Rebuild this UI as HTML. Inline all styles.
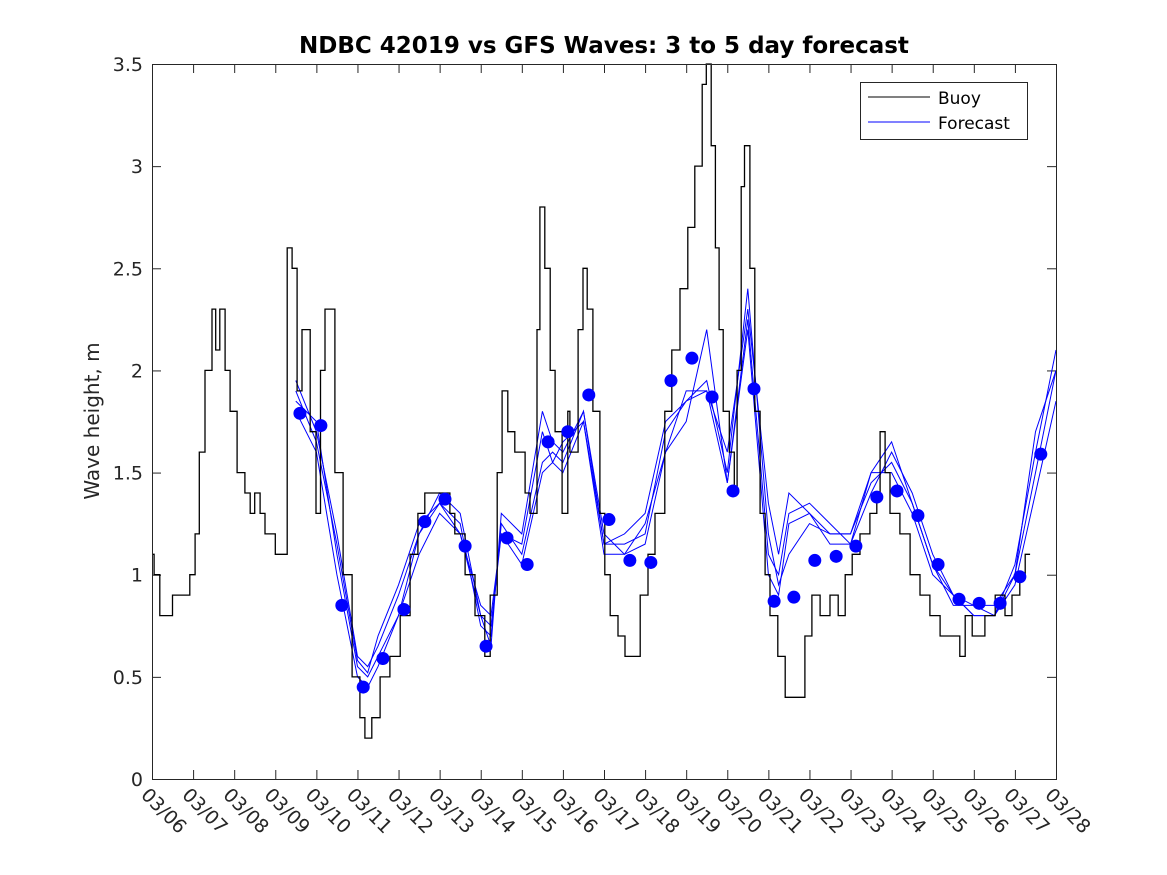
<!DOCTYPE html>
<html><head><meta charset="utf-8"><style>
html,body{margin:0;padding:0;background:#fff;}
svg{display:block;font-family:"DejaVu Sans","Liberation Sans",sans-serif;}
</style></head><body>
<svg id="chart" width="1167" height="875" viewBox="0 0 1167 875">
<rect x="0" y="0" width="1167" height="875" fill="#fff"/>
<text x="604" y="53" text-anchor="middle" font-size="23" font-weight="bold" fill="#000">NDBC 42019 vs GFS Waves: 3 to 5 day forecast</text>
<text transform="translate(99,421) rotate(-90)" text-anchor="middle" font-size="20" fill="#262626">Wave height, m</text>
<g id="grid"></g>
<g id="series"></g>
<rect x="152.5" y="64.5" width="904" height="715" fill="none" stroke="#262626" stroke-width="1"/>
<g>
<rect x="860.5" y="82.5" width="167" height="57" fill="#fff" stroke="#262626"/>
<line x1="868" y1="97" x2="930" y2="97" stroke="#000"/>
<text x="938" y="104" font-size="17" fill="#000">Buoy</text>
<line x1="868" y1="122" x2="930" y2="122" stroke="#00f"/>
<text x="938" y="129" font-size="17" fill="#000">Forecast</text>
</g>
</svg>
<script>
const xTickLabels=["03/06","03/07","03/08","03/09","03/10","03/11","03/12","03/13","03/14","03/15","03/16","03/17","03/18","03/19","03/20","03/21","03/22","03/23","03/24","03/25","03/26","03/27","03/28"];
const yTicks=[0,0.5,1,1.5,2,2.5,3,3.5];
const yTickLabels=["0","0.5","1","1.5","2","2.5","3","3.5"];
const buoyDay=[0,0.05,0.19,0.5,0.8,0.92,1.05,1.15,1.29,1.46,1.55,1.65,1.78,1.9,2.07,2.26,2.39,2.5,2.63,2.75,3.0,3.12,3.29,3.41,3.53,3.65,3.85,3.99,4.1,4.21,4.45,4.65,4.87,5.06,5.18,5.35,5.55,5.79,6.04,6.28,6.47,6.64,7.01,7.25,7.37,7.62,7.86,8.1,8.23,8.4,8.52,8.66,8.83,9.08,9.2,9.37,9.44,9.56,9.69,9.81,9.98,10.12,10.17,10.37,10.49,10.59,10.73,10.9,11.02,11.15,11.34,11.51,11.75,11.88,12.07,12.24,12.48,12.65,12.85,13.04,13.21,13.39,13.49,13.61,13.71,13.8,13.9,14.05,14.17,14.24,14.34,14.42,14.55,14.67,14.8,14.92,15.04,15.23,15.41,15.7,15.89,16.06,16.26,16.5,16.7,16.87,17.04,17.23,17.47,17.64,17.72,17.84,17.96,18.2,18.45,18.69,18.93,19.18,19.62,19.66,19.79,19.96,20.27,20.52,20.76,20.93,21.12,21.25,21.37];
const buoyHeight=[1.1,1.0,0.8,0.9,0.9,1.0,1.2,1.6,2.0,2.3,2.1,2.3,2.0,1.8,1.5,1.4,1.3,1.4,1.3,1.2,1.1,1.1,2.6,2.5,1.9,2.2,1.7,1.3,2.0,2.3,1.5,1.0,0.5,0.3,0.2,0.3,0.5,0.6,0.8,1.1,1.3,1.4,1.4,1.3,1.2,1.0,0.8,0.6,0.9,1.5,1.9,1.7,1.6,1.4,1.3,2.2,2.8,2.5,2.0,1.7,1.3,1.8,1.6,2.2,2.5,2.3,1.8,1.3,1.0,0.8,0.7,0.6,0.6,0.9,1.1,1.3,1.8,2.1,2.4,2.7,3.0,3.4,3.5,3.1,2.6,2.2,1.8,1.6,1.4,2.0,2.9,3.1,2.5,1.8,1.3,1.0,0.8,0.6,0.4,0.4,0.7,0.9,0.8,0.9,0.8,1.0,1.1,1.2,1.3,1.4,1.7,1.5,1.3,1.2,1.0,0.9,0.8,0.7,0.7,0.6,0.8,0.7,0.8,0.9,0.8,0.9,1.0,1.1,1.1];
const dotDay=[3.6,4.11,4.62,5.14,5.62,6.13,6.64,7.13,7.62,8.13,8.64,9.13,9.64,10.12,10.63,11.12,11.63,12.14,12.63,13.14,13.63,14.14,14.65,15.14,15.62,16.13,16.65,17.13,17.64,18.13,18.64,19.13,19.64,20.13,20.64,21.12,21.63];
const dotHeight=[1.79,1.73,0.85,0.45,0.59,0.83,1.26,1.37,1.14,0.65,1.18,1.05,1.65,1.70,1.88,1.27,1.07,1.06,1.95,2.06,1.87,1.41,1.91,0.87,0.89,1.07,1.09,1.14,1.38,1.41,1.29,1.05,0.88,0.86,0.86,0.99,1.59];
const fcDay=[3.5,4.0,4.5,5.0,5.25,5.5,6.0,6.5,7.0,7.5,8.0,8.25,8.5,9.0,9.5,9.75,10.0,10.5,11.0,11.5,12.0,12.5,13.0,13.5,14.0,14.5,15.0,15.25,15.5,16.0,16.5,17.0,17.5,18.0,18.5,19.0,19.5,20.0,20.5,21.0,21.5,22.0];
const fcRunA=[1.95,1.7,1.2,0.6,0.55,0.65,0.9,1.2,1.35,1.25,0.75,0.7,1.25,1.1,1.55,1.6,1.55,1.8,1.15,1.15,1.2,1.7,1.85,1.95,1.5,2.4,1.2,0.95,1.1,1.25,1.2,1.2,1.45,1.55,1.35,1.05,0.9,0.85,0.85,1.0,1.5,2.0];
const fcRunB=[1.85,1.75,1.1,0.55,0.5,0.6,0.8,1.2,1.4,1.3,0.8,0.65,1.3,1.2,1.8,1.65,1.6,1.8,1.2,1.1,1.25,1.6,1.75,2.2,1.45,2.2,1.0,0.9,1.25,1.3,1.15,1.15,1.4,1.6,1.4,1.1,0.9,0.8,0.8,1.0,1.7,2.0];
const fcRunC=[1.8,1.6,1.0,0.5,0.45,0.55,0.8,1.1,1.3,1.2,0.8,0.75,1.2,1.05,1.5,1.55,1.5,1.75,1.1,1.1,1.15,1.6,1.9,1.9,1.6,2.3,1.35,1.1,1.4,1.3,1.2,1.2,1.5,1.5,1.3,1.0,0.9,0.8,0.8,0.95,1.4,1.85];
const fcRunD=[1.9,1.65,1.15,0.58,0.52,0.7,0.95,1.25,1.35,1.2,0.85,0.8,1.2,1.15,1.7,1.55,1.65,1.75,1.15,1.2,1.3,1.75,1.85,1.9,1.45,2.25,1.1,1.0,1.3,1.35,1.25,1.15,1.5,1.65,1.35,1.05,0.85,0.85,0.8,1.05,1.6,2.1];

const X0=152,X1=1056,Y0=779,Y1=64;
function xs(d){return X0+(X1-X0)*d/22;}
function ys(v){return Y0-(Y0-Y1)*v/3.5;}
const NS="http://www.w3.org/2000/svg";
const grid=document.getElementById('grid'),ser=document.getElementById('series');
function mk(tag,attrs,parent){const e=document.createElementNS(NS,tag);for(const k in attrs)e.setAttribute(k,attrs[k]);parent.appendChild(e);return e;}

xTickLabels.forEach((lab,i)=>{
  const x=xs(i)+0.5;
  const t1=mk('line',{x1:x,y1:Y0,x2:x,y2:Y0-9,stroke:'#262626'},grid);
  
  
  const t2=mk('line',{x1:x,y1:Y1,x2:x,y2:Y1+9,stroke:'#262626'},grid);
  
  
  const tx=mk('text',{transform:`translate(${xs(i)-12},${Y0+17}) rotate(45)`,'font-size':'19',fill:'#262626'},grid);
  tx.textContent=lab;
  
  
});
yTicks.forEach((v,i)=>{
  const y=ys(v)+0.5;
  const t1=mk('line',{x1:X0,y1:y,x2:X0+9,y2:y,stroke:'#262626'},grid);
  
  
  const t2=mk('line',{x1:X1,y1:y,x2:X1-9,y2:y,stroke:'#262626'},grid);
  
  
  const tx=mk('text',{x:X0-9,y:ys(v)+7,'text-anchor':'end','font-size':'19',fill:'#262626'},grid);
  tx.textContent=yTickLabels[i];
  
  
});

[fcRunA,fcRunB,fcRunC,fcRunD].forEach((run)=>{
  const p=fcDay.map((d,i)=>xs(d).toFixed(1)+','+ys(run[i]).toFixed(1)).join(' ');
  const l=mk('polyline',{points:p,fill:'none',stroke:'#00f','stroke-width':'1'},ser);
  
  
});

let bp='';
buoyDay.forEach((d,i)=>{
  if(i>0) bp+=' '+xs(d).toFixed(1)+','+ys(buoyHeight[i-1]).toFixed(1);
  bp+=' '+xs(d).toFixed(1)+','+ys(buoyHeight[i]).toFixed(1);
});
const bl=mk('polyline',{points:bp.trim(),fill:'none',stroke:'#000','stroke-width':'1.3'},ser);



dotDay.forEach((d,i)=>{
  const c=mk('circle',{cx:xs(d),cy:ys(dotHeight[i]),r:6.5,fill:'#00f'},ser);
  
  
});
</script>
</body></html>
